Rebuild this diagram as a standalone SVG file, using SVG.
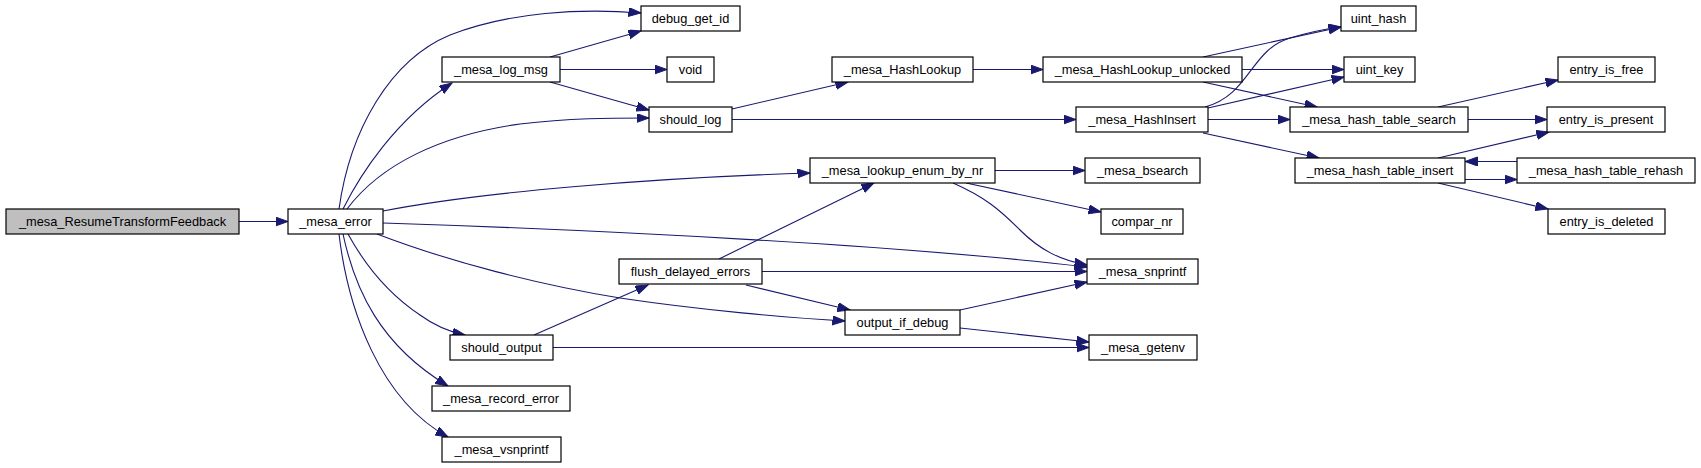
<svg xmlns="http://www.w3.org/2000/svg" width="1701" height="468" viewBox="0 0 1701 468">
<defs>
<marker id="arr" markerWidth="14" markerHeight="10" refX="12.5" refY="4.5" orient="auto" markerUnits="userSpaceOnUse">
<path d="M0,0 L12.5,4.5 L0,9 z" fill="#191970" stroke="#191970" stroke-width="1"/>
</marker>
<style>
.n rect{fill:#ffffff;stroke:#000000;stroke-width:1.2}
.n.main rect{fill:#bfbfbf}
.n text{font-family:"Liberation Sans",Arial,sans-serif;font-size:12.8px;fill:#000000;text-anchor:middle}
.e path{fill:none;stroke:#191970;stroke-width:1.1;marker-end:url(#arr)}
</style>
</defs>
<rect x="0" y="0" width="1701" height="468" fill="#ffffff"/>
<g id="edges" class="e">
<path d="M239,221.5 L288,221.5"/>
<path d="M339,209 C350,130 390,60 450,35 C510,12 580,8 641,13"/>
<path d="M343,209 C360,175 395,120 452,83"/>
<path d="M347,209 C380,165 440,135 520,124 C570,118 610,118 649,118"/>
<path d="M383,211 C480,192 650,178 810,173"/>
<path d="M383,223 C600,230 900,245 1087,267"/>
<path d="M377,234 C450,262 540,285 620,298 C700,310 790,318 845,321"/>
<path d="M348,234 C365,265 390,295 420,315 C435,326 450,332 465,335"/>
<path d="M343,234 C355,290 380,345 448,386"/>
<path d="M339,234 C348,310 380,400 448,437"/>
<path d="M550,57 L641,31"/>
<path d="M560,69.5 L667,69.5"/>
<path d="M550,82 L649,110"/>
<path d="M732,109 L848,82"/>
<path d="M732,119.5 L1076,119.5"/>
<path d="M973,69.5 L1043,69.5"/>
<path d="M1203,57 L1341,27"/>
<path d="M1242,69.5 L1344,69.5"/>
<path d="M1203,82 L1317,107"/>
<path d="M1205,107 C1250,95 1250,50 1290,38 C1310,32 1325,29 1341,27"/>
<path d="M1208,108 L1344,77"/>
<path d="M1208,119.5 L1290,119.5"/>
<path d="M1203,133 L1319,158"/>
<path d="M1438,107 L1558,80"/>
<path d="M1468,119.5 L1547,119.5"/>
<path d="M1438,158 L1549,132"/>
<path d="M1465,179.5 L1517,179.5"/>
<path d="M1517,161.5 L1465,161.5"/>
<path d="M1438,183 L1548,209"/>
<path d="M995,170.5 L1085,170.5"/>
<path d="M966,183 L1101,212"/>
<path d="M953,183 C985,197 1000,210 1020,230 C1040,250 1060,260 1087,265"/>
<path d="M719,259 L874,183"/>
<path d="M762,271.5 L1087,271.5"/>
<path d="M746,285 L850,310"/>
<path d="M960,310 L1087,282"/>
<path d="M960,328 L1089,342"/>
<path d="M534,335 L648,285"/>
<path d="M553,347.5 L1089,347.5"/>
</g>
<g id="n_main" class="n main"><rect x="6" y="209" width="233" height="25"/><text x="122.5" y="226">_mesa_ResumeTransformFeedback</text></g>
<g id="n_error" class="n"><rect x="288" y="209" width="95" height="25"/><text x="335.5" y="226">_mesa_error</text></g>
<g id="n_debug_get_id" class="n"><rect x="641" y="6" width="99" height="25"/><text x="690.5" y="23">debug_get_id</text></g>
<g id="n_log_msg" class="n"><rect x="442" y="57" width="118" height="25"/><text x="501" y="74">_mesa_log_msg</text></g>
<g id="n_void" class="n"><rect x="667" y="57" width="47" height="25"/><text x="690.5" y="74">void</text></g>
<g id="n_should_log" class="n"><rect x="649" y="107" width="83" height="25"/><text x="690.5" y="124">should_log</text></g>
<g id="n_flush" class="n"><rect x="619" y="259" width="143" height="25"/><text x="690.5" y="276">flush_delayed_errors</text></g>
<g id="n_should_output" class="n"><rect x="450" y="335" width="103" height="25"/><text x="501.5" y="352">should_output</text></g>
<g id="n_record_error" class="n"><rect x="432" y="386" width="138" height="25"/><text x="501" y="403">_mesa_record_error</text></g>
<g id="n_vsnprintf" class="n"><rect x="442" y="437" width="119" height="25"/><text x="501.5" y="454">_mesa_vsnprintf</text></g>
<g id="n_hashlookup" class="n"><rect x="832" y="57" width="141" height="25"/><text x="902.5" y="74">_mesa_HashLookup</text></g>
<g id="n_lookup_enum" class="n"><rect x="810" y="158" width="185" height="25"/><text x="902.5" y="175">_mesa_lookup_enum_by_nr</text></g>
<g id="n_output_if_debug" class="n"><rect x="845" y="310" width="115" height="25"/><text x="902.5" y="327">output_if_debug</text></g>
<g id="n_unlocked" class="n"><rect x="1043" y="57" width="199" height="25"/><text x="1142.5" y="74">_mesa_HashLookup_unlocked</text></g>
<g id="n_hashinsert" class="n"><rect x="1076" y="107" width="132" height="25"/><text x="1142" y="124">_mesa_HashInsert</text></g>
<g id="n_bsearch" class="n"><rect x="1085" y="158" width="115" height="25"/><text x="1142.5" y="175">_mesa_bsearch</text></g>
<g id="n_compar_nr" class="n"><rect x="1101" y="209" width="82" height="25"/><text x="1142" y="226">compar_nr</text></g>
<g id="n_snprintf" class="n"><rect x="1087" y="259" width="111" height="25"/><text x="1142.5" y="276">_mesa_snprintf</text></g>
<g id="n_getenv" class="n"><rect x="1089" y="335" width="108" height="25"/><text x="1143" y="352">_mesa_getenv</text></g>
<g id="n_uint_hash" class="n"><rect x="1341" y="6" width="75" height="25"/><text x="1378.5" y="23">uint_hash</text></g>
<g id="n_uint_key" class="n"><rect x="1344" y="57" width="71" height="25"/><text x="1379.5" y="74">uint_key</text></g>
<g id="n_search" class="n"><rect x="1290" y="107" width="178" height="25"/><text x="1379" y="124">_mesa_hash_table_search</text></g>
<g id="n_insert" class="n"><rect x="1295" y="158" width="170" height="25"/><text x="1380" y="175">_mesa_hash_table_insert</text></g>
<g id="n_entry_is_free" class="n"><rect x="1558" y="57" width="97" height="25"/><text x="1606.5" y="74">entry_is_free</text></g>
<g id="n_entry_is_present" class="n"><rect x="1547" y="107" width="118" height="25"/><text x="1606" y="124">entry_is_present</text></g>
<g id="n_rehash" class="n"><rect x="1517" y="158" width="178" height="25"/><text x="1606" y="175">_mesa_hash_table_rehash</text></g>
<g id="n_entry_is_deleted" class="n"><rect x="1548" y="209" width="117" height="25"/><text x="1606.5" y="226">entry_is_deleted</text></g>
</svg>
